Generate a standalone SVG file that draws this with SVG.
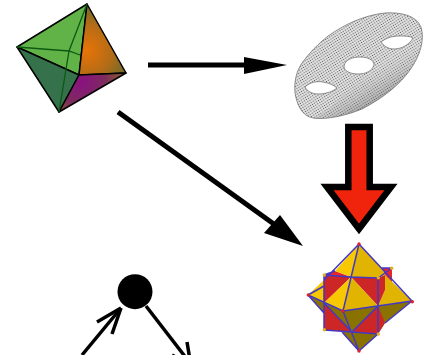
<svg xmlns="http://www.w3.org/2000/svg" width="427" height="355" viewBox="0 0 427 355">
<defs>
<radialGradient id="or" gradientUnits="userSpaceOnUse" cx="86" cy="50" r="46"><stop offset="0" stop-color="#e87408"/><stop offset="0.55" stop-color="#b56c16"/><stop offset="1" stop-color="#6a6b2c"/></radialGradient>
<radialGradient id="pu" gradientUnits="userSpaceOnUse" cx="82" cy="82" r="46"><stop offset="0" stop-color="#8a1180"/><stop offset="0.5" stop-color="#7d2c5e"/><stop offset="1" stop-color="#8f6a1c"/></radialGradient>
<pattern id="mesh" patternUnits="userSpaceOnUse" width="2.4" height="2.4" patternTransform="rotate(-32 360 65)"><rect width="2.4" height="2.4" fill="#e4e4e4"/><circle cx="1.2" cy="1.2" r="0.65" fill="#555"/></pattern>
<linearGradient id="shade" gradientUnits="userSpaceOnUse" x1="350" y1="70" x2="372" y2="108"><stop offset="0" stop-color="#fff" stop-opacity="0"/><stop offset="1" stop-color="#444" stop-opacity="0.4"/></linearGradient>
</defs>
<style>
.e{stroke:#000;stroke-width:1.5;stroke-linejoin:round}
.h{fill:none;stroke:#0c5a12;stroke-width:1.3}
.b{stroke:#000;fill:none;stroke-width:5}
.y{fill:#f8c800}.g{fill:#e0b400}.o{fill:#8a7200}.r{fill:#cc2626}.r2{fill:#e8242c}
.w{fill:none;stroke:#4338c4;stroke-width:1.5;stroke-linejoin:round}
.t{fill:none;stroke:#000;stroke-width:3.5}
</style>
<g id="octahedron">
<polygon class="e" fill="#62b347" points="87,4 17,47 79,75"/>
<polygon class="e" fill="#35724c" points="17,47 59,112 79,75"/>
<polygon class="e" fill="url(#or)" points="87,4 126,73 79,75"/>
<polygon class="e" fill="url(#pu)" points="126,73 59,112 79,75"/>
<path class="h" d="M87,4 69,51 59,112M17,47 69,51 80,55"/>
</g>
<g id="torus">
<path fill="url(#mesh)" stroke="#666" stroke-width="0.7" fill-rule="evenodd" d="M385,13C400,12 416,15 421,27C425,40 420,56 410,70C400,84 385,97 362,109C345,116 325,120 313,118C302,116 297,105 295,93C294,82 296,72 302,63C309,53 318,44 328,36C345,24 365,15 385,13ZM305,87C310,82 317,81 323,82C329,83 334,85 337,88C332,92 325,94 318,94C312,94 307,91 305,87ZM344,66C345,60 352,57 360,57C368,57 374,60 374,65C372,71 366,74 358,74C350,74 344,71 344,66ZM381,42C386,38 392,36 399,36C405,36 410,36 413,38C410,44 402,49 394,49C388,49 384,46 381,42Z"/>
<path fill="url(#shade)" d="M413,38C425,42 420,56 410,70C400,84 385,97 362,109C345,116 325,120 313,118C330,112 340,95 352,84C365,74 380,62 394,49C402,49 410,44 413,38Z"/>
</g>
<g id="connectors">
<path class="b" d="M148,65H250"/>
<polygon points="244,57 287,65 244,74"/>
<path class="b" d="M118,112 278,227"/>
<polygon points="303,246 264,233 280,215"/>
<path class="t" d="M121,308 82,355"/>
<path class="t" d="M121,308 97,322M121,308 112,334"/>
<path class="t" d="M146,306 190,363"/>
<path class="t" d="M187,342 191,366M172,355 191,366"/>
</g>
<g id="red-arrow">
<polygon fill="#f0240c" stroke="#000" stroke-width="6.5" stroke-miterlimit="10" points="348.3,127 369.7,127 369.7,187 391,187 359,229 327,187 348.3,187"/>
</g>
<g id="circle-node"><circle cx="135" cy="291.7" r="17.5" fill="#000"/></g>
<g id="polyhedron">
<polygon class="r2" points="382,268 392,268 392,285 385,275"/>
<polygon class="r2" points="335,271 351,277 324,275"/>
<polygon class="y" points="359,244 351,277 335,271"/>
<polygon class="g" points="359,244 382,268 385,275 378,278 351,277"/>
<polygon class="y" points="324,280 324,303 308,295"/>
<polygon class="o" points="308,295 324,303 324,313"/>
<polygon class="r" points="324,275 351,277 324,303"/>
<polygon class="r" points="351,277 378,278 378,306"/>
<polygon class="r" points="324,303 352,332 324,330"/>
<polygon class="r" points="378,306 378,334 352,332"/>
<polygon class="y" points="351,277 343,311 324,303"/>
<polygon class="g" points="351,277 378,306 343,311"/>
<polygon class="o" points="324,303 343,311 352,332"/>
<polygon class="o" points="343,311 378,306 352,332"/>
<polygon class="g" points="385,275 412,301 378,306 385,290"/>
<polygon class="r" points="378,278 385,275 385,290 378,306"/>
<polygon class="o" points="378,306 412,301 385,323 378,334"/>
<polygon class="r" points="378,306 385,323 378,334"/>
<polygon class="o" points="342,332 352,332 378,334 359,351"/>
<path class="w" d="M359,244 343,311 359,351M359,244 412,301 385,323M378,334 359,351M359,244 324,280M324,286 308,295 343,311 412,301M308,295 324,313M324,275 351,277 378,278 378,334 352,332 324,330ZM378,278 392,268 382,268M324,275 335,271M324,303 352,332M378,306 352,332M342,332 359,351"/>
<g fill="#e02030"><circle cx="359" cy="244" r="1.7"/><circle cx="308.3" cy="295" r="1.7"/><circle cx="412.3" cy="301.7" r="1.7"/><circle cx="342.7" cy="311" r="1.7"/><circle cx="359" cy="351" r="1.7"/></g>
<g fill="#e0b020"><circle cx="324.3" cy="275" r="1.7"/><circle cx="378.3" cy="277.7" r="1.7"/><circle cx="324.3" cy="329.7" r="1.7"/><circle cx="378.3" cy="334" r="1.7"/><circle cx="391.7" cy="268.3" r="1.7"/></g>
</g>
</svg>
